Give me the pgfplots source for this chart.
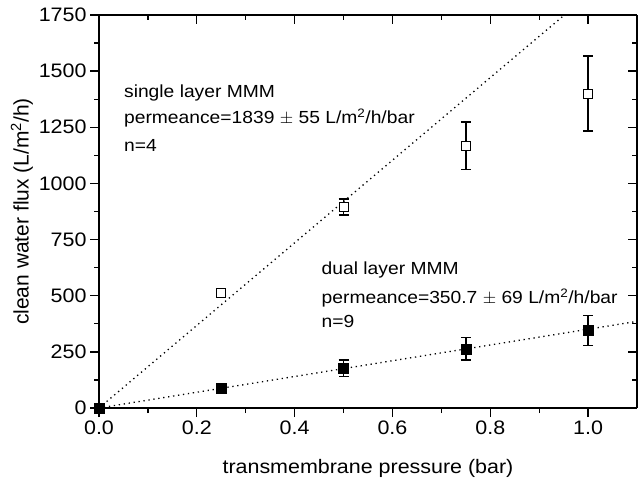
\documentclass[border=0pt]{standalone}
\usepackage{pgfplots}
\pgfplotsset{compat=1.18}
\usepackage{fontspec}
\setmainfont{Liberation Sans}[FakeStretch=1.1]
\newfontfamily\plainfont{Liberation Sans}
\begin{document}
\begin{tikzpicture}
\tikzset{annot/.style={anchor=west, inner sep=0pt, font=\fontsize{17.5bp}{20bp}\selectfont}}
\pgfplotsset{
  common/.style={
    at={(0,0)}, anchor=south west, scale only axis,
    width=538bp, height=393bp,
    xmin=0, xmax=1.1, ymin=0, ymax=1750,
    xtick={0,0.2,0.4,0.6,0.8,1.0}, minor x tick num=1,
    ytick={0,250,500,750,1000,1250,1500,1750}, minor y tick num=1,
    axis line style={line width=1.5bp, black},
    major tick length=9bp, minor tick length=5bp,
    every tick/.style={line width=1.3bp, black},
    /pgf/number format/assume math mode=true,
    clip=false,
  }
}
\begin{axis}[common,
  axis x line*=top, axis y line*=right, tick align=inside,
  xticklabels={}, yticklabels={}]
\end{axis}
\begin{axis}[common,
  axis x line*=bottom, axis y line*=left, tick align=outside,
  tick label style={font=\fontsize{19.5bp}{22bp}\selectfont, black},
  xticklabel style={/pgf/number format/.cd, fixed, fixed zerofill, precision=1},
  yticklabel style={/pgf/number format/.cd, fixed, 1000 sep={}},
  xlabel={transmembrane pressure (bar)},
  ylabel={clean water flux (L/m\textsuperscript{2}/h)},
  xlabel style={font=\fontsize{19.5bp}{22bp}\selectfont, at={(axis description cs:0.5,-0.1527)}, anchor=center},
  ylabel style={font=\plainfont\fontsize{21bp}{24bp}\selectfont, at={(axis description cs:-0.1431,0.5)}, anchor=center},
  fit/.style={black, line width=1.3bp, dash pattern=on 1.3bp off 3.7bp},
  ebar/.style={error bars/.cd, y dir=both, y explicit,
     error bar style={line width=1.5bp, black},
     error mark options={line width=1.5bp, mark size=5bp, black, rotate=90}},
]
% fitted lines
\addplot[fit] coordinates {(0,0) (0.9516,1750)};
\addplot[fit] coordinates {(0,0) (1.1,385.8)};
% single layer MMM
\addplot[only marks, mark=square*, mark size=4.5bp,
  mark options={fill=white, draw=black, line width=1bp}, ebar]
  coordinates {
  (0,0) +- (0,0)
  (0.25,512) +- (0,10)
  (0.5,895) +- (0,35)
  (0.75,1168) +- (0,105)
  (1.0,1400) +- (0,167)
  };
% dual layer MMM
\addplot[only marks, mark=square*, mark size=5bp,
  mark options={fill=black, draw=black}, ebar]
  coordinates {
  (0,0) +- (0,0)
  (0.25,90) +- (0,4)
  (0.5,177) +- (0,37)
  (0.75,263) +- (0,50)
  (1.0,345) +- (0,67)
  };
\node[annot] at (axis cs:0.051,1402) {single layer MMM};
\node[annot] at (axis cs:0.051,1291) {permeance=1839 $\pm$ 55 L/m\textsuperscript{2}/h/bar};
\node[annot] at (axis cs:0.051,1171) {n=4};
\node[annot] at (axis cs:0.455,614) {dual layer MMM};
\node[annot] at (axis cs:0.455,490) {permeance=350.7 $\pm$ 69 L/m\textsuperscript{2}/h/bar};
\node[annot] at (axis cs:0.455,384) {n=9};
\end{axis}
\pgfresetboundingbox
\path[use as bounding box] (-99bp,-73bp) rectangle (539bp,408bp);
\end{tikzpicture}
\end{document}
